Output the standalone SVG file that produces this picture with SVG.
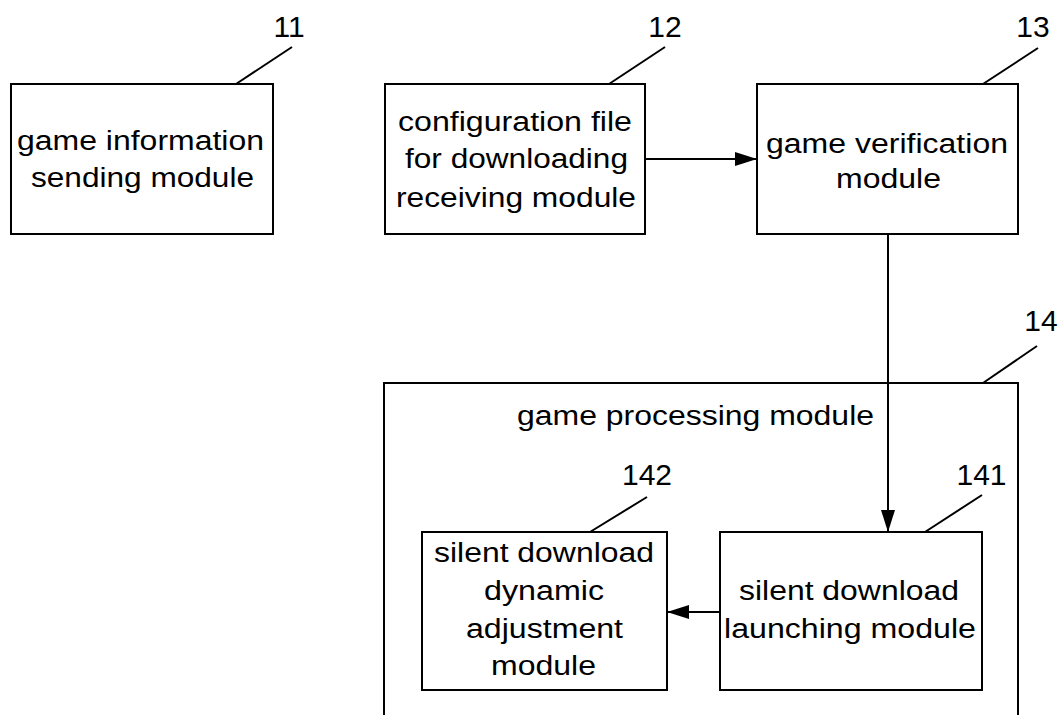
<svg xmlns="http://www.w3.org/2000/svg" width="1061" height="715" viewBox="0 0 1061 715">
<style>
.box{fill:#fff;stroke:#000;stroke-width:2}
.lead{fill:none;stroke:#000;stroke-width:2}
.conn{fill:none;stroke:#000;stroke-width:2}
text{font-family:"Liberation Sans",Arial,sans-serif;fill:#000}
.t{font-size:27px;text-anchor:middle}
.num{font-size:30px;text-anchor:middle}
</style>
<defs>
<marker id="ah" markerUnits="userSpaceOnUse" markerWidth="22" markerHeight="14" refX="22" refY="7" orient="auto">
<path d="M0,0 L22,7 L0,14 Z" fill="#000"/>
</marker>
</defs>
<rect width="1061" height="715" fill="#fff"/>

<g id="node14">
<path class="box" d="M384,715 L384,383 L1018,383 L1018,715"/>
<text class="t" x="695.5" y="425" textLength="357" lengthAdjust="spacingAndGlyphs">game processing module</text>
<line class="lead" x1="983" y1="383" x2="1037" y2="346"/>
<text class="num" x="1041" y="331">14</text>
</g>

<g id="node11">
<rect class="box" x="11" y="84" width="262" height="150"/>
<text class="t" x="140.5" y="150" textLength="247" lengthAdjust="spacingAndGlyphs">game information</text>
<text class="t" x="142.5" y="187" textLength="223" lengthAdjust="spacingAndGlyphs">sending module</text>
<line class="lead" x1="236" y1="84" x2="292" y2="47"/>
<text class="num" x="289" y="37">11</text>
</g>

<g id="node12">
<rect class="box" x="385" y="84" width="260" height="150"/>
<text class="t" x="515" y="131" textLength="234" lengthAdjust="spacingAndGlyphs">configuration file</text>
<text class="t" x="516.5" y="168" textLength="223" lengthAdjust="spacingAndGlyphs">for downloading</text>
<text class="t" x="516" y="207" textLength="240" lengthAdjust="spacingAndGlyphs">receiving module</text>
<line class="lead" x1="609" y1="84" x2="665" y2="47"/>
<text class="num" x="665" y="37">12</text>
</g>

<g id="node13">
<rect class="box" x="757" y="84" width="261" height="150"/>
<text class="t" x="887" y="153" textLength="242" lengthAdjust="spacingAndGlyphs">game verification</text>
<text class="t" x="888.5" y="188" textLength="105" lengthAdjust="spacingAndGlyphs">module</text>
<line class="lead" x1="983" y1="84" x2="1038" y2="48"/>
<text class="num" x="1033" y="37">13</text>
</g>

<g id="node142">
<rect class="box" x="422" y="532" width="245" height="158"/>
<text class="t" x="544" y="562" textLength="220" lengthAdjust="spacingAndGlyphs">silent download</text>
<text class="t" x="544" y="600" textLength="120" lengthAdjust="spacingAndGlyphs">dynamic</text>
<text class="t" x="544.5" y="638" textLength="157" lengthAdjust="spacingAndGlyphs">adjustment</text>
<text class="t" x="543.5" y="675" textLength="105" lengthAdjust="spacingAndGlyphs">module</text>
<line class="lead" x1="590" y1="532" x2="647" y2="497"/>
<text class="num" x="647" y="485">142</text>
</g>

<g id="node141">
<rect class="box" x="720" y="532" width="262" height="158"/>
<text class="t" x="849" y="600" textLength="220" lengthAdjust="spacingAndGlyphs">silent download</text>
<text class="t" x="850" y="638" textLength="252" lengthAdjust="spacingAndGlyphs">launching module</text>
<line class="lead" x1="925" y1="532" x2="982" y2="495"/>
<text class="num" x="981.5" y="485">141</text>
</g>

<g id="connectors">
<line class="conn" x1="645" y1="159" x2="757" y2="159" marker-end="url(#ah)"/>
<line class="conn" x1="888" y1="234" x2="888" y2="532" marker-end="url(#ah)"/>
<line class="conn" x1="720" y1="612" x2="667" y2="612" marker-end="url(#ah)"/>
</g>
</svg>
